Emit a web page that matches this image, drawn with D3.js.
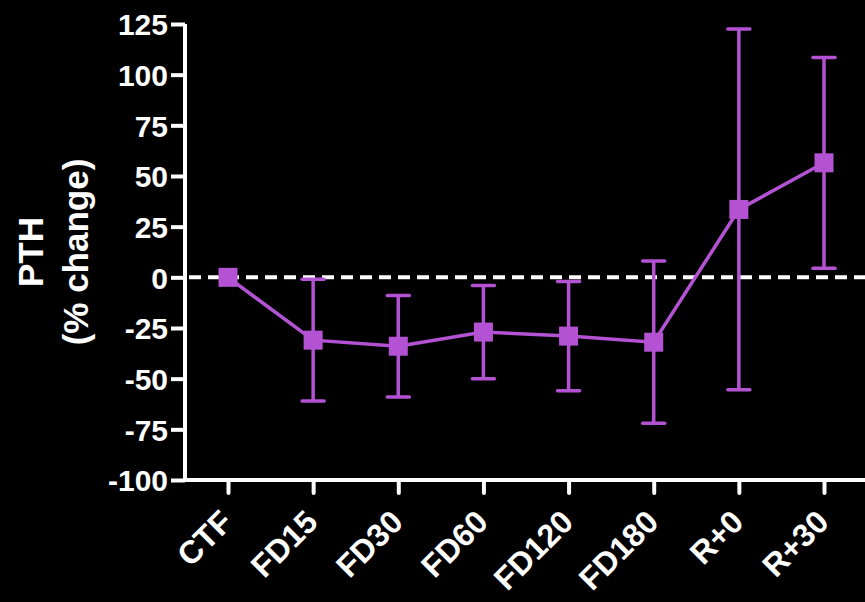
<!DOCTYPE html>
<html>
<head>
<meta charset="utf-8">
<title>PTH % change</title>
<style>
body, html {
  margin: 0;
  background: #000;
}
svg { display: block; }
.tick text, .title {
  font-family: "Liberation Sans", Arial, sans-serif;
  font-weight: bold;
  fill: #fff;
}
</style>
</head>
<body>
<script src="https://cdn.jsdelivr.net/npm/d3@7"></script>
<script>
// values
var groups = ["CTF", "FD15", "FD30", "FD60", "FD120", "FD180", "R+0", "R+30"];
var means  = [0, -31, -34, -27, -29, -32, 33.5, 56.5];
var errs   = [0, 30, 25, 23, 27, 40, 89, 52];
var yTicks = [-100, -75, -50, -25, 0, 25, 50, 75, 100, 125];

var purple = "#b452d4";
var width = 865, height = 602;

var svg = d3.select("body").append("svg")
    .attr("width", width)
    .attr("height", height);

var x = d3.scalePoint()
    .domain(groups)
    .range([228, 824]);

var y = d3.scaleLinear()
    .domain([-100, 125])
    .range([480, 24]);

var axisX = 185;

// y axis
var gy = svg.append("g")
    .attr("transform", "translate(" + axisX + ",0)")
    .call(d3.axisLeft(y).tickValues(yTicks).tickSize(14).tickPadding(3)
      .tickFormat(function(d) { return String(d); }));
gy.select(".domain").attr("stroke", "#fff").attr("stroke-width", 4)
    .attr("d", "M0," + y(125) + "V" + y(-100));
gy.selectAll(".tick line").attr("stroke", "#fff").attr("stroke-width", 4);
gy.selectAll(".tick text").style("font-size", "30px").attr("dy", "0.36em");

// x axis
var gx = svg.append("g")
    .attr("transform", "translate(0," + y(-100) + ")")
    .call(d3.axisBottom(x).tickSize(13));
gx.select(".domain").attr("stroke", "#fff").attr("stroke-width", 4)
    .attr("d", "M" + (axisX - 2) + ",0H" + width);
gx.selectAll(".tick line").attr("stroke", "#fff").attr("stroke-width", 4)
    .attr("stroke-linecap", "round");
gx.selectAll(".tick text")
    .style("font-size", "32px")
    .attr("text-anchor", "end")
    .attr("dy", null)
    .attr("y", 0)
    .attr("transform", "translate(6,44) rotate(-45)");

// zero line
svg.append("line")
    .attr("x1", axisX + 4).attr("x2", width)
    .attr("y1", y(0)).attr("y2", y(0))
    .attr("stroke", "#fff")
    .attr("stroke-width", 4)
    .attr("stroke-dasharray", "12,7");

var data = groups.map(function(g, i) {
  return { g: g, m: means[i], e: errs[i] };
});

// error bars
var eb = svg.append("g").selectAll("g")
    .data(data.filter(function(d) { return d.e > 0; }))
  .enter().append("g")
    .attr("stroke", purple)
    .attr("stroke-width", 3.5);
eb.append("line")
    .attr("x1", function(d) { return x(d.g); })
    .attr("x2", function(d) { return x(d.g); })
    .attr("y1", function(d) { return y(d.m + d.e); })
    .attr("y2", function(d) { return y(d.m - d.e); });
eb.append("line")
    .attr("x1", function(d) { return x(d.g) - 11; })
    .attr("x2", function(d) { return x(d.g) + 11; })
    .attr("y1", function(d) { return y(d.m + d.e); })
    .attr("y2", function(d) { return y(d.m + d.e); })
    .attr("stroke-linecap", "round");
eb.append("line")
    .attr("x1", function(d) { return x(d.g) - 11; })
    .attr("x2", function(d) { return x(d.g) + 11; })
    .attr("y1", function(d) { return y(d.m - d.e); })
    .attr("y2", function(d) { return y(d.m - d.e); })
    .attr("stroke-linecap", "round");

// mean line
svg.append("path")
    .datum(data)
    .attr("fill", "none")
    .attr("stroke", purple)
    .attr("stroke-width", 3.5)
    .attr("d", d3.line()
      .x(function(d) { return x(d.g); })
      .y(function(d) { return y(d.m); }));

// square markers
svg.append("g").selectAll("rect")
    .data(data)
  .enter().append("rect")
    .attr("x", function(d) { return x(d.g) - 9.5; })
    .attr("y", function(d) { return y(d.m) - 9.5; })
    .attr("width", 19)
    .attr("height", 19)
    .attr("fill", purple);

// y title
var title = svg.append("text")
    .attr("class", "title")
    .attr("transform", "translate(0,252) rotate(-90)")
    .attr("text-anchor", "middle")
    .style("font-size", "35px");
title.append("tspan").attr("x", 0).attr("y", 43).text("PTH");
title.append("tspan").attr("x", 0).attr("y", 88).text("(% change)");
</script>
</body>
</html>
